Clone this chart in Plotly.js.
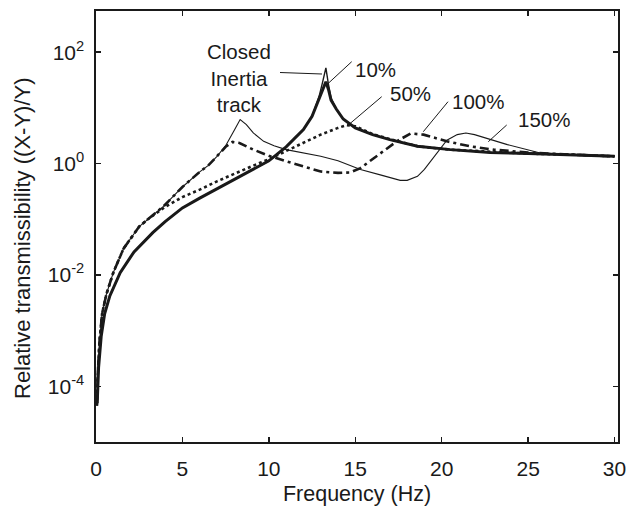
<!DOCTYPE html>
<html>
<head>
<meta charset="utf-8">
<script src="https://cdn.plot.ly/plotly-3.0.1.min.js"></script>
<style>html,body{margin:0;padding:0;background:#fff;}#chart{width:628px;height:508px;}</style>
</head>
<body>
<div id="chart"></div>
<script>
// ---- data ----
const closedF = [0.07,0.15,0.3,0.5,0.8,1.4,2.2,3.3,4.0,5.0,6.0,7.0,8.0,9.0,10.0,11.0,11.6,12.0,12.5,12.9,13.1,13.3,13.45,13.6,13.9,14.3,15.0,16.0,17.0,18.6,20.5,22.8,25.0,27.5,30.0];
const closedV = [0.00005,0.00022,0.00079,0.002,0.0042,0.011,0.026,0.058,0.091,0.16,0.24,0.35,0.51,0.76,1.12,2.0,3.0,4.07,7.08,15.8,28.2,52.5,26.3,15.1,9.55,6.31,4.37,3.31,2.69,2.04,1.78,1.58,1.51,1.45,1.35];

const tenF = [0.07,0.15,0.3,0.5,0.8,1.4,2.2,3.3,4.0,5.0,6.0,7.0,8.0,9.0,10.0,11.0,11.6,12.0,12.5,12.9,13.1,13.3,13.45,13.6,13.9,14.3,15.0,16.0,17.0,18.6,20.5,22.8,25.0,27.5,30.0];
const tenV = [0.00005,0.00022,0.00079,0.002,0.0042,0.011,0.026,0.058,0.091,0.16,0.24,0.35,0.51,0.76,1.12,2.0,3.0,4.07,7.08,14.5,20.0,29.5,21.4,13.8,9.55,6.31,4.37,3.31,2.69,2.04,1.78,1.58,1.51,1.45,1.35];

const fiftyF = [0.05,0.1,0.2,0.35,0.6,1.0,1.6,2.5,3.0,4.0,5.0,6.0,7.0,8.0,9.0,10.0,11.0,12.0,13.0,14.0,14.5,15.0,15.5,16.0,17.0,18.6,20.5,22.8,25.0,27.5,30.0];
const fiftyV = [0.000045,0.00016,0.00063,0.002,0.0045,0.011,0.030,0.074,0.1,0.166,0.25,0.34,0.48,0.66,0.89,1.20,1.70,2.40,3.31,4.37,4.90,4.68,3.98,3.39,2.75,2.04,1.78,1.62,1.51,1.45,1.35];

const hundredF = [0.05,0.1,0.2,0.35,0.6,1.0,1.6,2.5,3.9,5.0,6.0,6.5,7.0,7.5,7.9,8.3,9.1,10.0,11.0,12.0,13.0,14.0,14.7,15.3,16.0,16.8,17.4,18.2,18.95,20.3,21.65,23.0,25.0,27.5,30.0];
const hundredV = [0.000045,0.00016,0.00063,0.002,0.0045,0.011,0.030,0.074,0.17,0.38,0.71,0.93,1.35,2.0,2.45,2.34,1.78,1.38,1.10,0.89,0.72,0.68,0.69,0.83,1.20,1.78,2.51,3.47,3.31,2.51,2.04,1.78,1.58,1.45,1.35];

const oneFiftyF = [0.05,0.1,0.2,0.35,0.6,1.0,1.6,2.5,3.9,5.0,6.0,6.5,7.0,7.5,8.0,8.34,8.7,9.1,9.7,10.3,11.0,12.0,13.0,14.0,14.9,15.3,16.5,17.6,18.0,18.6,19.0,19.7,20.3,20.9,21.4,21.9,22.8,23.8,25.7,27.4,30.0];
const oneFiftyV = [0.000045,0.00016,0.00063,0.002,0.0045,0.011,0.030,0.074,0.17,0.38,0.71,0.93,1.35,2.09,3.98,6.17,5.01,3.55,2.51,2.09,1.78,1.55,1.35,1.12,0.89,0.78,0.62,0.5,0.5,0.59,0.79,1.55,2.63,3.31,3.55,3.31,2.69,2.19,1.55,1.41,1.35];

const xTickVals = [0,5,10,15,20,25,30];
const yTickVals = [0.0001,0.01,1,100];
const yTickText = ['10<sup>-4</sup>','10<sup>-2</sup>','10<sup>0</sup>','10<sup>2</sup>'];

const seriesLabels = ['Closed<br>Inertia<br>track','10%','50%','100%','150%'];
const xTitle = 'Frequency (Hz)';
const yTitle = 'Relative transmissibility ((X-Y)/Y)';

// ---- layout helpers (pixel -> paper) ----
const L = 96, R = 618, T = 11, B = 442;
const px = x => (x - L) / (R - L);
const py = y => (B - y) / (B - T);

const ink = '#1a1a1a';
const fam = 'Liberation Sans, Arial, sans-serif';
const traces = [
  {x: tenF, y: tenV, mode:'lines', line:{color:ink, width:3, dash:'solid'}},
  {x: closedF, y: closedV, mode:'lines', line:{color:ink, width:1.4}},
  {x: fiftyF, y: fiftyV, mode:'lines', line:{color:ink, width:2.6, dash:'dot'}},
  {x: hundredF, y: hundredV, mode:'lines', line:{color:ink, width:2.6, dash:'9px,4px,3px,4px'}},
  {x: oneFiftyF, y: oneFiftyV, mode:'lines', line:{color:ink, width:1.1}}
];

// label centres and leader lines in pixel space
const labelPos = [[239,78],[375,69],[410,94],[478,101],[544,119.5]];
const leaders = [
  [280,72.5,322,74],
  [351.7,61.7,328.3,83.3],
  [381.7,96.7,348.3,125],
  [448,101.7,423.3,131.7],
  [506.7,125,488.3,141.7]
];

const annotations = seriesLabels.map((t,i)=>({
  text:t, xref:'paper', yref:'paper', x:px(labelPos[i][0]), y:py(labelPos[i][1]),
  xanchor:'center', yanchor:'middle', showarrow:false,
  font:{size:20.5, color:ink, family:fam}
}));
annotations.push({
  text:yTitle, xref:'paper', yref:'paper', x:px(22), y:py(238),
  xanchor:'center', yanchor:'middle', showarrow:false, textangle:-90,
  font:{size:22, color:ink, family:fam}
});
const shapes = leaders.map(l=>({
  type:'line', xref:'paper', yref:'paper',
  x0:px(l[0]), y0:py(l[1]), x1:px(l[2]), y1:py(l[3]),
  line:{color:ink, width:1}
}));

const axisCommon = {
  ticks:'inside', ticklen:5, tickwidth:1.5, tickcolor:ink,
  showline:true, linewidth:1.6, linecolor:ink, mirror:'ticks',
  showgrid:false, zeroline:false,
  tickfont:{size:21, color:ink}
};

const layout = {
  width:628, height:508,
  margin:{l:L, r:628-R, t:T, b:508-B, pad:0},
  paper_bgcolor:'#fff', plot_bgcolor:'#fff',
  font:{family:fam, size:21, color:ink},
  showlegend:false,
  xaxis:Object.assign({}, axisCommon, {
    range:[0,30.2], tickvals:xTickVals, ticklabelstandoff:7,
    title:{text:xTitle, font:{size:21.5, color:ink}, standoff:7}
  }),
  yaxis:Object.assign({}, axisCommon, {
    type:'log', range:[-5,2.74], tickvals:yTickVals, ticktext:yTickText, ticklabelstandoff:6
  }),
  annotations:annotations,
  shapes:shapes
};

Plotly.newPlot('chart', traces, layout, {displayModeBar:false, staticPlot:true});
</script>
</body>
</html>
